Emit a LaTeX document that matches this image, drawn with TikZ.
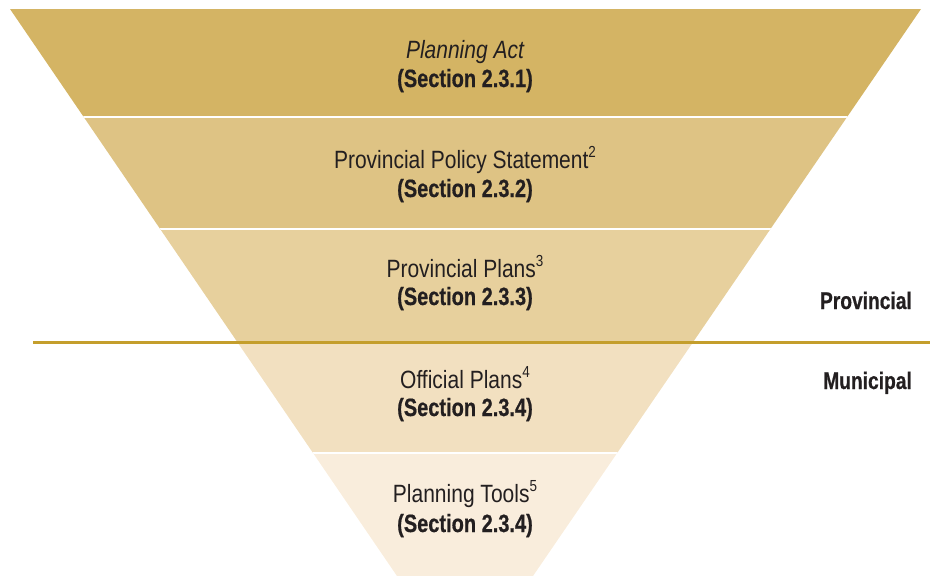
\documentclass[tikz,border=0pt]{standalone}
\usepackage{fontspec}
\setmainfont{Liberation Sans}[FakeStretch=0.84,BoldFeatures={FakeStretch=0.80,FakeBold=0.6}]
\usepackage{tikz}
\usetikzlibrary{positioning,calc}

\definecolor{bandA}{HTML}{D4B464}
\definecolor{bandB}{HTML}{DEC384}
\definecolor{bandC}{HTML}{E7D09D}
\definecolor{bandD}{HTML}{F2E0C0}
\definecolor{bandE}{HTML}{F9EDDC}
\definecolor{goldline}{HTML}{C49E2C}
\definecolor{ink}{HTML}{231F20}

% one horizontal band of the funnel, from y=#1 down to y=#2
\newcommand{\funnelband}[3]{\fill[#3] (0,#1) rectangle (930,#2)}
\newcommand{\fnote}[1]{\raisebox{0.42em}{\fontsize{16}{16}\selectfont#1}}

\begin{document}
\begin{tikzpicture}[
  x=1pt, y=-1pt,
  title/.style={anchor=base,text=ink,font=\fontsize{25}{29}\selectfont},
  sec/.style={anchor=base,text=ink,font=\fontsize{25}{29}\selectfont\bfseries},
  level/.style={anchor=base east,inner sep=0pt,text=ink,font=\fontsize{24}{28}\selectfont\bfseries},
  gap/.style={white,line width=2pt}
  ]
  \useasboundingbox (0,0) rectangle (930,576);

  \begin{scope}
    \clip (10,9) -- (921,9) -- (533,576) -- (397,576) -- cycle;
    \funnelband{9}{117}{bandA};
    \funnelband{117}{229}{bandB};
    \funnelband{229}{342}{bandC};
    \funnelband{342}{453}{bandD};
    \funnelband{453}{576}{bandE};
    \draw[gap] (0,117) -- (930,117);
    \draw[gap] (0,229) -- (930,229);
    \draw[gap] (0,453) -- (930,453);
  \end{scope}

  \coordinate (L) at (33,342);
  \coordinate (R) at (930,342);
  \draw[goldline,line width=3pt] (L) -- (R);

  \node[title] (PA) at (465,58) {\itshape Planning Act};
  \node[sec] (PAs) at (465,87) {(Section 2.3.1)};
  \node[title] (PPS) at (465,168) {Provincial Policy Statement\fnote{2}};
  \node[sec] (PPSs) at (465,197) {(Section 2.3.2)};
  \node[title] (PP) at (465,277) {Provincial Plans\fnote{3}};
  \node[sec] (PPs) at (465,305) {(Section 2.3.3)};
  \node[title] (OP) at (465,388) {Official Plans\fnote{4}};
  \node[sec] (OPs) at (465,416) {(Section 2.3.4)};
  \node[title] (PT) at (465,502) {Planning Tools\fnote{5}};
  \node[sec] (PTs) at (465,532) {(Section 2.3.4)};

  \node[level] (prov) at (912,309) {Provincial};
  \node[level] (muni) at (912,389) {Municipal};
\end{tikzpicture}
\end{document}
